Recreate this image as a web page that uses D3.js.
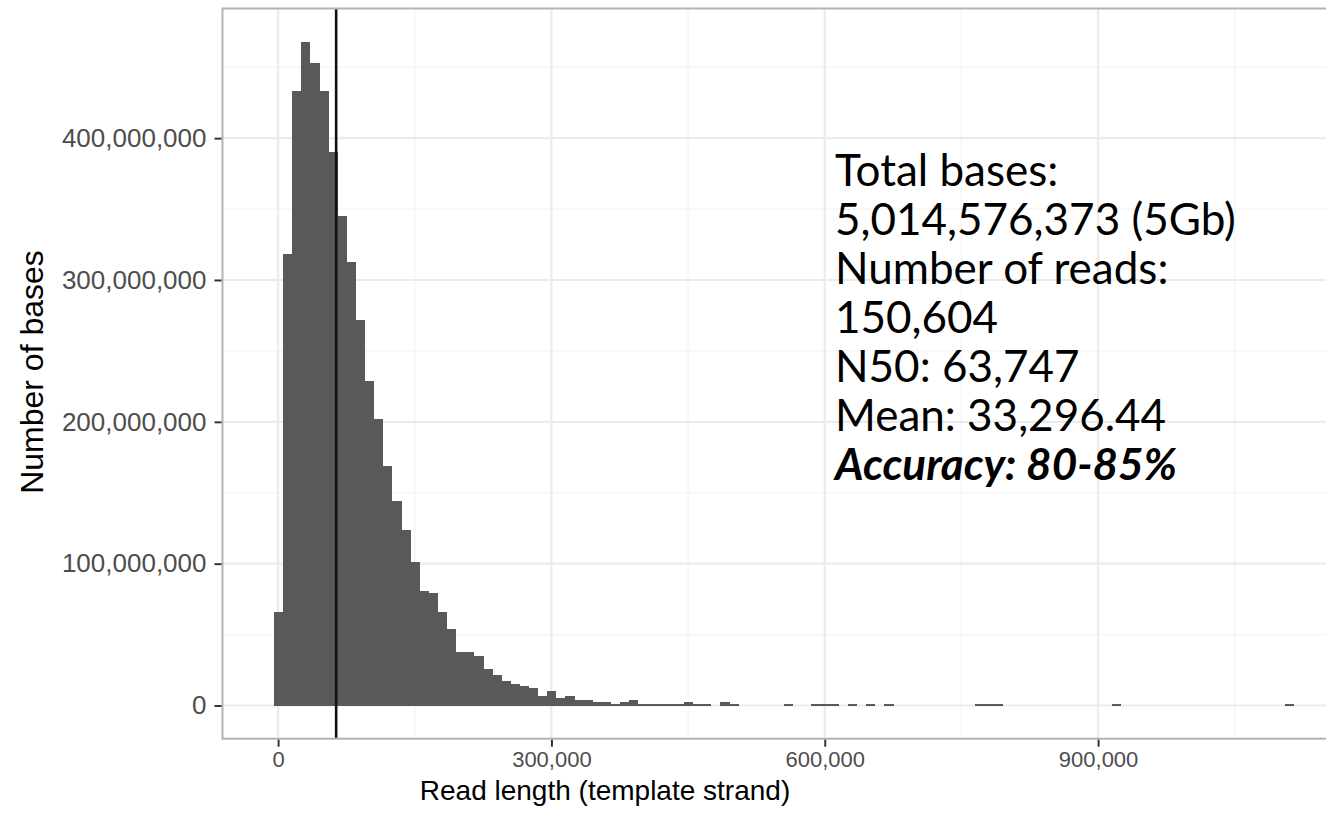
<!DOCTYPE html>
<html>
<head>
<meta charset="utf-8">
<script src="https://cdn.jsdelivr.net/npm/d3@7"></script>
<style>
  body { margin: 0; background: #fff; }
  svg { display: block; }
</style>
</head>
<body>
<div id="chart"></div>
<script>
// Read length histogram (template strand), 10 kb bins, y = total bases in bin
const binWidth = 10000;

// bin centres (bp) for every non-empty bin
const binCenters = [
  0, 10000, 20000, 30000, 40000, 50000, 60000, 70000, 80000, 90000,
  100000, 110000, 120000, 130000, 140000, 150000, 160000, 170000, 180000, 190000,
  200000, 210000, 220000, 230000, 240000, 250000, 260000, 270000, 280000, 290000,
  300000, 310000, 320000, 330000, 340000, 350000, 360000, 370000, 380000, 390000,
  400000, 410000, 420000, 430000, 440000, 450000, 460000, 470000, 490000, 500000,
  560000, 590000, 600000, 610000, 630000, 650000, 670000, 770000, 780000, 790000,
  920000, 1110000
];

// bases per bin
const basesPerBin = [
  66e6, 318e6, 433e6, 468e6, 453e6, 433e6, 390e6, 345e6, 313e6, 272e6,
  229e6, 202e6, 169e6, 144e6, 124e6, 101e6, 81e6, 79e6, 66e6, 54e6,
  38e6, 38e6, 34.6e6, 25.6e6, 21.3e6, 17.2e6, 15.5e6, 14e6, 12.6e6, 6.5e6,
  10e6, 5e6, 6.9e6, 3.7e6, 3.7e6, 2.3e6, 2.3e6, 1.2e6, 2.5e6, 4e6,
  1e6, 1e6, 1e6, 1e6, 1e6, 2.3e6, 1e6, 1e6, 2.3e6, 1e6,
  1e6, 1e6, 1e6, 1e6, 1e6, 1e6, 1e6, 1e6, 1e6, 1e6,
  1e6, 1e6
];

const n50 = 63747;

const yTicks = [0, 100000000, 200000000, 300000000, 400000000];
const yMinor = [50000000, 150000000, 250000000, 350000000, 450000000];
const xTicks = [0, 300000, 600000, 900000];
const xMinor = [150000, 450000, 750000, 1050000];

const statsLines = [
  "Total bases:",
  "5,014,576,373 (5Gb)",
  "Number of reads:",
  "150,604",
  "N50: 63,747",
  "Mean: 33,296.44"
];
const accuracyLine = "Accuracy: 80-85%";

const bins = binCenters.map((c, i) => ({ x0: c - binWidth / 2, x1: c + binWidth / 2, value: basesPerBin[i] }));

const width = 1326, height = 819;
const panel = { left: 222.5, top: 8.5, right: 1345, bottom: 738.7 };

const svg = d3.select('#chart').append('svg')
    .attr('width', width)
    .attr('height', height);

svg.append('rect').attr('width', width).attr('height', height).attr('fill', '#fff');

// ggplot style 5% expansion on both axes
const xLo = d3.min(bins, d => d.x0), xHi = d3.max(bins, d => d.x1);
const xPad = (xHi - xLo) * 0.05;
const x = d3.scaleLinear()
    .domain([xLo - xPad, xHi + xPad])
    .range([panel.left, panel.right]);

const yHi = d3.max(bins, d => d.value);
const y = d3.scaleLinear()
    .domain([-yHi * 0.05, yHi * 1.05])
    .range([panel.bottom, panel.top]);

const grid = svg.append('g');

grid.selectAll('.ymin').data(yMinor).enter().append('line')
    .attr('x1', panel.left).attr('x2', panel.right)
    .attr('y1', d => y(d)).attr('y2', d => y(d))
    .attr('stroke', '#f3f3f3').attr('stroke-width', 1.2);
grid.selectAll('.xmin').data(xMinor).enter().append('line')
    .attr('x1', d => x(d)).attr('x2', d => x(d))
    .attr('y1', panel.top).attr('y2', panel.bottom)
    .attr('stroke', '#f3f3f3').attr('stroke-width', 1.2);
grid.selectAll('.ymaj').data(yTicks).enter().append('line')
    .attr('x1', panel.left).attr('x2', panel.right)
    .attr('y1', d => y(d)).attr('y2', d => y(d))
    .attr('stroke', '#ebebeb').attr('stroke-width', 2.2);
grid.selectAll('.xmaj').data(xTicks).enter().append('line')
    .attr('x1', d => x(d)).attr('x2', d => x(d))
    .attr('y1', panel.top).attr('y2', panel.bottom)
    .attr('stroke', '#ebebeb').attr('stroke-width', 2.2);

// histogram bars
svg.append('g')
    .attr('fill', '#595959')
    .attr('shape-rendering', 'crispEdges')
    .selectAll('rect')
    .data(bins)
    .enter().append('rect')
    .attr('x', d => x(d.x0))
    .attr('width', d => x(d.x1) - x(d.x0) + 0.5)
    .attr('y', d => y(d.value))
    .attr('height', d => y(0) - y(d.value));

// N50 marker
svg.append('line')
    .attr('x1', x(n50)).attr('x2', x(n50))
    .attr('y1', panel.top).attr('y2', panel.bottom)
    .attr('stroke', '#111').attr('stroke-width', 2.6);

// panel border
svg.append('rect')
    .attr('x', panel.left).attr('y', panel.top)
    .attr('width', panel.right - panel.left).attr('height', panel.bottom - panel.top)
    .attr('fill', 'none').attr('stroke', '#b3b3b3').attr('stroke-width', 2);

// axes
const yAxis = svg.append('g')
    .attr('transform', `translate(${panel.left - 1},0)`)
    .call(d3.axisLeft(y).tickValues(yTicks).tickFormat(d3.format(',')).tickSize(7).tickPadding(8));
const xAxis = svg.append('g')
    .attr('transform', `translate(0,${panel.bottom + 1})`)
    .call(d3.axisBottom(x).tickValues(xTicks).tickFormat(d3.format(',')).tickSize(7).tickPadding(5));

[yAxis, xAxis].forEach(a => {
    a.select('.domain').remove();
    a.selectAll('.tick line').attr('stroke', '#333').attr('stroke-width', 2);
    a.selectAll('.tick text')
        .attr('fill', '#4d4d4d')
        .style('font-family', '"Liberation Sans", Arial, sans-serif');
});
yAxis.selectAll('.tick text').style('font-size', '26px');
xAxis.selectAll('.tick text').style('font-size', '22px');

svg.append('text')
    .attr('x', 605).attr('y', 800)
    .attr('text-anchor', 'middle')
    .style('font-family', '"Liberation Sans", Arial, sans-serif')
    .style('font-size', '28px')
    .text('Read length (template strand)');

svg.append('text')
    .attr('transform', 'translate(43,372) rotate(-90)')
    .attr('text-anchor', 'middle')
    .style('font-family', '"Liberation Sans", Arial, sans-serif')
    .style('font-size', '32px')
    .text('Number of bases');

// summary text
const stats = svg.append('g')
    .style('font-family', 'Lato, "Open Sans", sans-serif')
    .style('font-size', '44px');

stats.selectAll('text')
    .data(statsLines)
    .enter().append('text')
    .attr('x', 835)
    .attr('y', (d, i) => 186 + i * 49)
    .text(d => d);

stats.append('text')
    .attr('x', 835)
    .attr('y', 186 + statsLines.length * 49)
    .style('font-weight', 'bold')
    .style('font-style', 'italic')
    .text(accuracyLine);
</script>
</body>
</html>
